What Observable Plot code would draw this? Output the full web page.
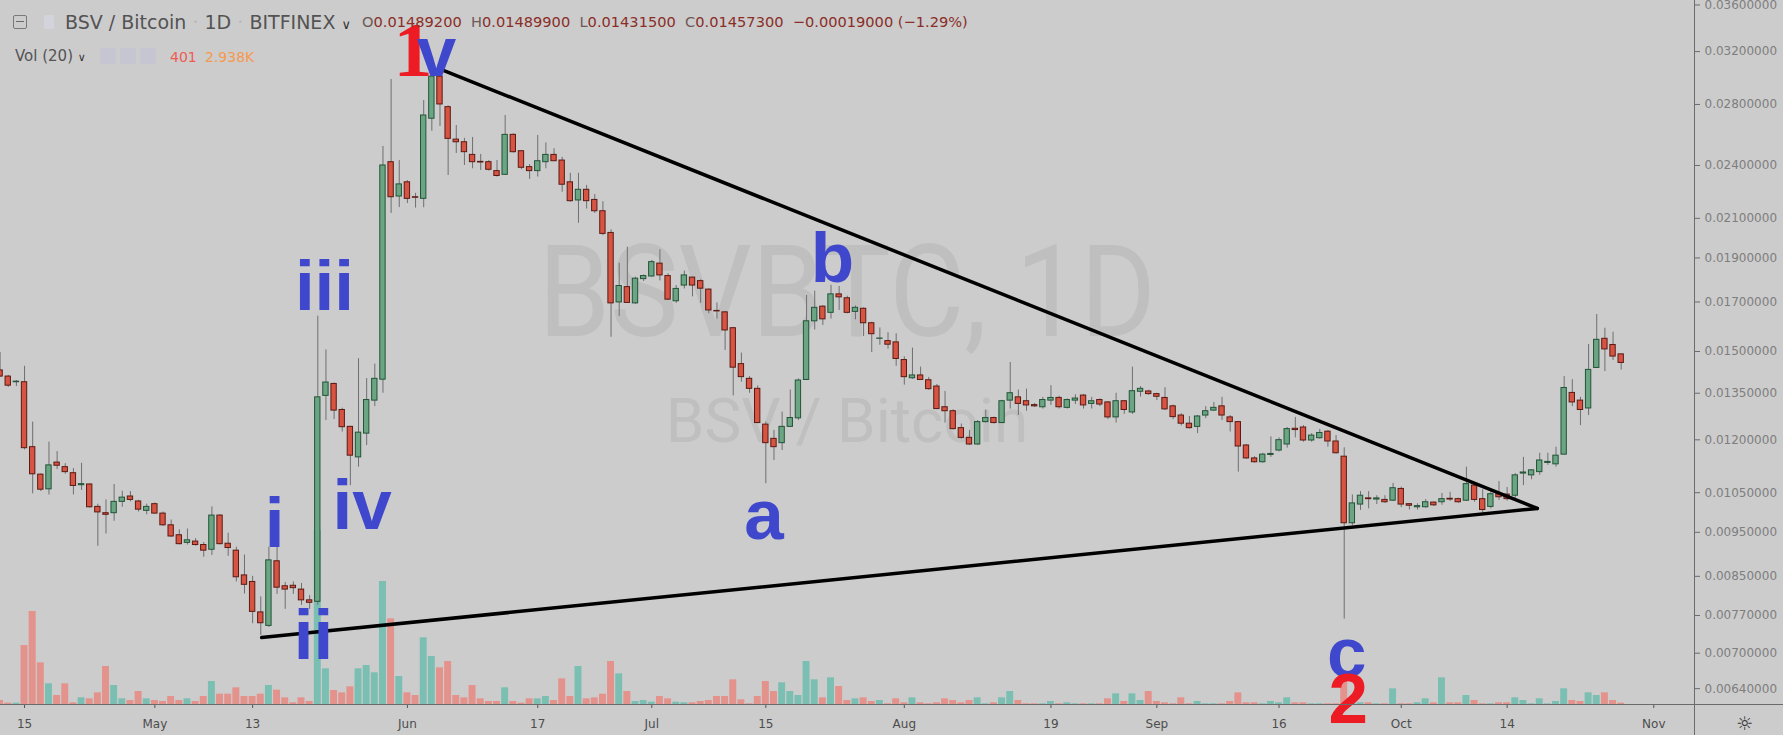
<!DOCTYPE html>
<html><head><meta charset="utf-8">
<script src="https://cdn.jsdelivr.net/npm/d3@7"></script>
<script src="https://cdn.jsdelivr.net/npm/@observablehq/plot@0.6"></script>
<style>
html,body{margin:0;padding:0;background:#cccccc;}
#wrap{position:relative;width:1783px;height:735px;overflow:hidden;background:#cccccc;font-family:"DejaVu Sans",sans-serif;}
.layer{position:absolute;left:0;top:0;}
.abs{position:absolute;white-space:nowrap;}
.wm{position:absolute;white-space:nowrap;color:#bfbfbf;font-family:Roboto,"DejaVu Sans",sans-serif;transform-origin:center center;}
</style></head><body>
<div id="wrap">
  <div class="wm" id="wm1" style="left:0;width:1694px;text-align:center;top:222px;font-size:128px;line-height:140px;transform:scaleX(0.9);">BSVBTC, 1D</div>
  <div class="wm" id="wm2" style="left:0;width:1694px;text-align:center;top:386px;font-size:62px;line-height:70px;">BSV / Bitcoin</div>
  <div class="layer" id="vol"></div>
  <div class="layer" id="main"></div>
  <div class="abs" style="left:1694px;top:0;width:1px;height:735px;background:#6b6b6b;"></div>
  <div class="abs" style="left:0;top:704px;width:1783px;height:1px;background:#6b6b6b;"></div>
  <div class="abs" style="left:1736px;top:711px;font-size:19px;color:#333;line-height:24px;">☼</div>
  <!-- header -->
  <div class="abs" style="left:13px;top:15px;width:12px;height:12px;border:1px solid #7a7a7a;border-radius:2px;"></div>
  <div class="abs" style="left:16px;top:21px;width:8px;height:1px;background:#6a6a6a;"></div>
  <div class="abs" style="left:44px;top:15px;width:10px;height:14px;background:#d3d3dc;"></div>
  <div class="abs" style="left:65px;top:10px;font-size:19px;line-height:24px;color:#535353;">BSV / Bitcoin <span style="color:#b8b8b8">·</span> 1D <span style="color:#b8b8b8">·</span> BITFINEX <span style="font-size:13px;color:#333">&#x2228;</span></div>
  <div class="abs" style="left:362px;top:12px;font-size:14.6px;line-height:20px;color:#8a2e27;"><span style="color:#6d5a58">O</span>0.01489200&nbsp;&nbsp;<span style="color:#6d5a58">H</span>0.01489900&nbsp;&nbsp;<span style="color:#6d5a58">L</span>0.01431500&nbsp;&nbsp;<span style="color:#6d5a58">C</span>0.01457300&nbsp;&nbsp;−0.00019000 (−1.29%)</div>
  <div class="abs" style="left:15px;top:46px;font-size:15px;line-height:20px;color:#535353;">Vol (20) <span style="font-size:11px;color:#333">&#x2228;</span></div>
  <div class="abs" style="left:100px;top:48px;width:16px;height:16px;background:#c6c6d2;border-radius:2px;"></div>
  <div class="abs" style="left:120px;top:48px;width:16px;height:16px;background:#c6c6d2;border-radius:2px;"></div>
  <div class="abs" style="left:140px;top:48px;width:16px;height:16px;background:#c6c6d2;border-radius:2px;"></div>
  <div class="abs" style="left:170px;top:47px;font-size:14px;line-height:20px;color:#ef5b52;">401</div>
  <div class="abs" style="left:205px;top:47px;font-size:14px;line-height:20px;color:#f7994e;">2.938K</div>
</div>
<script>
// ---- data (BSV/BTC daily, Bitfinex, from 2019-04-12) ----
const startDate = "2019-04-12";
const open = [
0.01430,0.01408,0.01388,0.01388,0.01178,0.01099,0.01059,0.01133,0.01120,0.01103,
0.01070,0.01072,0.01013,0.00997,0.00997,0.01026,0.01040,0.01027,0.01003,0.01020,
0.00996,0.00967,0.00943,0.00925,0.00928,0.00920,0.00909,0.00991,0.00923,0.00907,
0.00852,0.00838,0.00776,0.00750,0.00883,0.00829,0.00830,0.00822,0.00800,0.00797,
0.01341,0.01382,0.01294,0.01240,0.01148,0.01219,0.01325,0.01397,0.02420,0.02219,
0.02300,0.02215,0.02206,0.02701,0.03004,0.02781,0.02562,0.02545,0.02465,0.02422,
0.02420,0.02366,0.02344,0.02593,0.02488,0.02390,0.02366,0.02420,0.02465,0.02430,
0.02300,0.02197,0.02257,0.02200,0.02138,0.02024,0.01698,0.01765,0.01694,0.01801,
0.01813,0.01873,0.01815,0.01703,0.01772,0.01808,0.01792,0.01754,0.01662,0.01656,
0.01591,0.01453,0.01400,0.01365,0.01247,0.01203,0.01190,0.01240,0.01267,0.01396,
0.01619,0.01680,0.01654,0.01733,0.01716,0.01658,0.01671,0.01611,0.01549,0.01540,
0.01535,0.01468,0.01402,0.01412,0.01395,0.01373,0.01303,0.01290,0.01236,0.01206,
0.01186,0.01255,0.01268,0.01252,0.01325,0.01336,0.01323,0.01310,0.01303,0.01325,
0.01334,0.01301,0.01325,0.01342,0.01314,0.01327,0.01319,0.01270,0.01323,0.01286,
0.01355,0.01356,0.01347,0.01334,0.01306,0.01276,0.01250,0.01240,0.01276,0.01292,
0.01306,0.01270,0.01255,0.01183,0.01145,0.01134,0.01155,0.01168,0.01186,0.01234,
0.01238,0.01198,0.01205,0.01225,0.01195,0.01150,0.00972,0.01019,0.01035,0.01032,
0.01031,0.01029,0.01060,0.01020,0.01012,0.01012,0.01024,0.01025,0.01034,0.01033,
0.01029,0.01069,0.01033,0.01013,0.01046,0.01045,0.01042,0.01102,0.01097,0.01106,
0.01132,0.01128,0.01156,0.01351,0.01325,0.01299,0.01439,0.01549,0.01525,0.014892];
const high = [
0.01496,0.01412,0.01394,0.01445,0.01255,0.01101,0.01193,0.01165,0.01130,0.01116,
0.01131,0.01074,0.01020,0.01031,0.01072,0.01054,0.01053,0.01030,0.01020,0.01023,
0.01000,0.00980,0.00956,0.00958,0.00935,0.00926,0.01013,0.00993,0.00948,0.00915,
0.00897,0.00850,0.00807,0.00915,0.00915,0.00837,0.00838,0.00835,0.00810,0.01640,
0.01506,0.01385,0.01300,0.01242,0.01473,0.01401,0.01453,0.02518,0.02982,0.02430,
0.02310,0.02237,0.02828,0.03060,0.03020,0.02790,0.02655,0.02570,0.02576,0.02468,
0.02430,0.02430,0.02723,0.02600,0.02490,0.02406,0.02589,0.02541,0.02504,0.02450,
0.02353,0.02353,0.02282,0.02230,0.02190,0.02040,0.01875,0.01952,0.01810,0.01820,
0.01888,0.01940,0.01826,0.01772,0.01838,0.01810,0.01798,0.01757,0.01696,0.01660,
0.01594,0.01494,0.01408,0.01375,0.01255,0.01229,0.01287,0.01361,0.01400,0.01728,
0.01747,0.01684,0.01773,0.01768,0.01725,0.01683,0.01675,0.01615,0.01592,0.01573,
0.01569,0.01480,0.01513,0.01442,0.01405,0.01380,0.01356,0.01295,0.01249,0.01229,
0.01260,0.01294,0.01271,0.01326,0.01459,0.01361,0.01364,0.01316,0.01336,0.01376,
0.01340,0.01331,0.01345,0.01346,0.01336,0.01331,0.01322,0.01350,0.01325,0.01442,
0.01373,0.01360,0.01350,0.01369,0.01310,0.01282,0.01273,0.01276,0.01305,0.01319,
0.01336,0.01276,0.01257,0.01186,0.01150,0.01160,0.01209,0.01206,0.01238,0.01270,
0.01244,0.01219,0.01232,0.01229,0.01213,0.01176,0.01044,0.01053,0.01053,0.01042,
0.01042,0.01075,0.01065,0.01021,0.01021,0.01032,0.01026,0.01048,0.01051,0.01036,
0.01120,0.01075,0.01058,0.01052,0.01080,0.01064,0.01102,0.01148,0.01113,0.01160,
0.01160,0.01178,0.01408,0.01397,0.01336,0.01527,0.01647,0.01591,0.01575,0.014899];
const low = [
0.01405,0.01370,0.01373,0.01170,0.01047,0.01053,0.01044,0.01113,0.01100,0.01044,
0.01056,0.01010,0.00917,0.00946,0.00977,0.01012,0.01026,0.01000,0.00993,0.00994,
0.00964,0.00938,0.00920,0.00920,0.00917,0.00892,0.00896,0.00920,0.00894,0.00838,
0.00813,0.00754,0.00732,0.00747,0.00812,0.00782,0.00812,0.00790,0.00782,0.00790,
0.01260,0.01263,0.01224,0.01069,0.01120,0.01183,0.01305,0.01350,0.02126,0.02158,
0.02180,0.02155,0.02157,0.02617,0.02648,0.02340,0.02474,0.02400,0.02380,0.02370,
0.02366,0.02331,0.02340,0.02476,0.02374,0.02317,0.02331,0.02380,0.02424,0.02243,
0.02187,0.02074,0.02150,0.02126,0.02010,0.01555,0.01639,0.01694,0.01690,0.01790,
0.01810,0.01793,0.01706,0.01694,0.01757,0.01722,0.01694,0.01650,0.01628,0.01504,
0.01341,0.01388,0.01350,0.01250,0.01074,0.01139,0.01168,0.01238,0.01260,0.01394,
0.01584,0.01602,0.01628,0.01664,0.01650,0.01625,0.01558,0.01496,0.01524,0.01509,
0.01445,0.01378,0.01398,0.01394,0.01360,0.01295,0.01252,0.01230,0.01202,0.01183,
0.01183,0.01252,0.01249,0.01250,0.01297,0.01276,0.01290,0.01302,0.01297,0.01309,
0.01297,0.01297,0.01312,0.01297,0.01297,0.01305,0.01263,0.01252,0.01280,0.01280,
0.01337,0.01343,0.01325,0.01292,0.01263,0.01243,0.01233,0.01219,0.01266,0.01290,
0.01260,0.01224,0.01106,0.01142,0.01131,0.01131,0.01148,0.01164,0.01175,0.01206,
0.01193,0.01193,0.01202,0.01178,0.01158,0.00763,0.00966,0.01004,0.01008,0.01019,
0.01022,0.01027,0.01011,0.01005,0.01005,0.01010,0.01014,0.01017,0.01027,0.01022,
0.01027,0.01025,0.00997,0.01008,0.01030,0.01028,0.01035,0.01069,0.01085,0.01097,
0.01125,0.01120,0.01155,0.01305,0.01244,0.01276,0.01437,0.01426,0.01466,0.014315];
const close = [
0.01408,0.01376,0.01390,0.01175,0.01100,0.01058,0.01125,0.01124,0.01106,0.01068,
0.01073,0.01012,0.00999,0.00993,0.01026,0.01037,0.01031,0.01006,0.01013,0.00996,
0.00967,0.00940,0.00922,0.00931,0.00920,0.00907,0.00991,0.00922,0.00913,0.00848,
0.00832,0.00777,0.00755,0.00885,0.00826,0.00822,0.00825,0.00800,0.00795,0.01336,
0.01387,0.01292,0.01239,0.01153,0.01222,0.01327,0.01400,0.02400,0.02215,0.02288,
0.02206,0.02212,0.02723,0.03004,0.02800,0.02567,0.02545,0.02482,0.02420,0.02418,
0.02374,0.02337,0.02593,0.02482,0.02386,0.02366,0.02426,0.02465,0.02426,0.02286,
0.02193,0.02257,0.02193,0.02138,0.02019,0.01694,0.01770,0.01696,0.01803,0.01815,
0.01880,0.01818,0.01710,0.01757,0.01818,0.01772,0.01758,0.01664,0.01660,0.01582,
0.01440,0.01406,0.01365,0.01252,0.01190,0.01178,0.01240,0.01268,0.01394,0.01619,
0.01675,0.01627,0.01733,0.01720,0.01654,0.01675,0.01611,0.01567,0.01550,0.01526,
0.01472,0.01406,0.01412,0.01396,0.01364,0.01297,0.01290,0.01233,0.01206,0.01186,
0.01255,0.01268,0.01252,0.01323,0.01350,0.01314,0.01309,0.01306,0.01327,0.01334,
0.01303,0.01327,0.01332,0.01309,0.01323,0.01312,0.01270,0.01323,0.01294,0.01357,
0.01365,0.01347,0.01338,0.01296,0.01271,0.01250,0.01236,0.01273,0.01290,0.01301,
0.01276,0.01255,0.01180,0.01145,0.01134,0.01156,0.01158,0.01199,0.01233,0.01230,
0.01198,0.01213,0.01221,0.01195,0.01160,0.00972,0.01022,0.01042,0.01033,0.01035,
0.01025,0.01062,0.01019,0.01016,0.01015,0.01025,0.01017,0.01033,0.01032,0.01025,
0.01073,0.01031,0.01005,0.01046,0.01038,0.01033,0.01097,0.01105,0.01111,0.01139,
0.01135,0.01153,0.01368,0.01319,0.01294,0.01432,0.01545,0.01508,0.01481,0.014573];
const volume = [
1200,400,400,17700,27900,12500,6200,2700,6200,500,
2000,1700,3500,11400,5700,1700,1200,3900,1700,1200,
900,2400,1200,1700,900,2400,6900,3100,3100,5000,
2400,2400,3100,5700,4300,2000,500,2000,900,52200,
10700,4200,3500,5300,10700,11700,9500,36900,25700,8400,
3500,2700,20000,14400,11000,12900,2700,2000,5700,1700,
900,900,5000,900,400,1700,1700,2400,1200,7700,
2400,11400,1700,2000,3100,12900,9200,3900,900,1200,
700,2400,1700,700,500,500,900,1200,2400,2400,
7400,1400,200,2400,6900,3900,6500,3900,2700,12900,
7400,2000,8000,5400,1200,1700,2000,900,1200,200,
1700,500,2000,500,200,500,1700,1200,500,1200,
2000,200,500,2000,3900,1200,200,200,200,900,
200,500,200,200,200,200,1700,3200,900,3200,
1200,3900,900,500,200,2000,200,900,200,200,
200,900,3500,500,500,200,900,500,2000,500,
500,200,200,200,200,7200,2100,500,500,200,
200,4700,200,200,500,1700,500,8000,500,500,
2700,1200,200,200,500,500,2000,1200,200,1700,
200,900,4700,1200,900,3500,2700,3500,1200,401];

const priceTicks = [0.0064,0.0070,0.0077,0.0085,0.0095,0.0105,0.0120,0.0135,0.0150,0.0170,0.0190,0.0210,0.0240,0.0280,0.0320,0.0360];
const timeTickDates = ["2019-04-15","2019-05-01","2019-05-13","2019-06-01","2019-06-17","2019-07-01","2019-07-15","2019-08-01","2019-08-19","2019-09-01","2019-09-16","2019-10-01","2019-10-14","2019-11-01"];
const timeTickLabels = ["15","May","13","Jun","17","Jul","15","Aug","19","Sep","16","Oct","14","Nov"];

// triangle trend lines (drawn by the author)
const trendName = ["upper","upper","lower","lower"];
const trendTime = ["2019-06-05T06:14Z","2019-10-17T16:48Z","2019-05-14T02:38Z","2019-10-17T16:48Z"];
const trendPrice = [0.03056,0.01009,0.007283,0.01009];

// Elliott-wave annotations
const waveText  = ["1","v","iii","i","ii","iv","a","b","c","2"];
const waveTime  = ["2019-06-01T16:19Z","2019-06-04T13:26Z","2019-05-21T19:41Z","2019-05-15T16:48Z","2019-05-20T11:17Z","2019-05-26T10:48Z","2019-07-14T18:29Z","2019-07-23T04:05Z","2019-09-24T07:41Z","2019-09-24T12:14Z"];
const wavePrice = [0.03005,0.03005,0.01664,0.009148,0.006902,0.009583,0.009352,0.01787,0.006588,0.005861];
const waveColor = ["#ed1c24","#3f48cc","#3f48cc","#3f48cc","#3f48cc","#3f48cc","#3f48cc","#3f48cc","#3f48cc","#ed1c24"];
const waveStyle = ["serif","sans","sans","sans","sans","sans","sans","sans","sans","sans"];

// ---- build ----
const DAY = 864e5;
const t0 = Date.parse(startDate + "T00:00:00Z");
const candles = open.map((o, i) => ({
  date: new Date(t0 + i * DAY),
  open: o, high: high[i], low: low[i], close: close[i], volume: volume[i],
  up: close[i] >= o
}));
const trend = trendName.map((n, i) => ({name: n, date: new Date(trendTime[i]), price: trendPrice[i]}));
const waves = waveText.map((t, i) => ({text: t, date: new Date(waveTime[i]), price: wavePrice[i], color: waveColor[i], style: waveStyle[i]}));
const labelMap = new Map(timeTickDates.map((d, i) => [Date.parse(d + "T00:00:00Z"), timeTickLabels[i]]));

const W = 1783, H = 735, MR = 89, MB = 31;
const xDomain = [new Date(t0 + 0.05 * DAY), new Date(t0 + 208 * DAY)];
const yDomain = [0.006149, 0.03641];
const volPerPx = 300;
const volDomain = [0, (H - MB) * volPerPx];

const bodyX1 = d => new Date(+d.date - DAY / 2);
const bodyX2 = d => new Date(+d.date + DAY / 2);

const volPlot = Plot.plot({
  width: W, height: H, marginLeft: 0, marginRight: MR, marginTop: 0, marginBottom: MB,
  style: {background: "transparent"},
  x: {type: "utc", domain: xDomain, axis: null},
  y: {domain: volDomain, axis: null},
  marks: [
    Plot.rectY(candles, {x1: bodyX1, x2: bodyX2, y: "volume", fill: d => d.up ? "#7bbfb3" : "#e4928c", insetLeft: 0.6, insetRight: 0.6})
  ]
});
document.getElementById("vol").appendChild(volPlot);

const waveOpts = {x: "date", y: "price", text: "text", fill: "color", fontWeight: "bold", fontSize: 71, lineAnchor: "bottom", textAnchor: "middle"};

const mainPlot = Plot.plot({
  width: W, height: H, marginLeft: 0, marginRight: MR, marginTop: 0, marginBottom: MB,
  style: {background: "transparent", fontFamily: "DejaVu Sans", fontSize: "12px", overflow: "visible"},
  x: {type: "utc", domain: xDomain},
  y: {type: "log", domain: yDomain},
  marks: [
    Plot.ruleX(candles, {x: "date", y1: "low", y2: "high", stroke: "#6f6f72", strokeWidth: 1}),
    Plot.rect(candles, {x1: bodyX1, x2: bodyX2, y1: "open", y2: "close",
      fill: d => d.up ? "#6ba583" : "#d75442", stroke: d => d.up ? "#225437" : "#5b1a13",
      strokeWidth: 1, insetLeft: 1.4, insetRight: 1.4}),
    Plot.line(trend, {x: "date", y: "price", z: "name", stroke: "#000", strokeWidth: 3.5}),
    Plot.text(waves.filter(d => d.style === "serif"), {...waveOpts, fontFamily: "Liberation Serif", fontSize: 78}),
    Plot.text(waves.filter(d => d.style === "sans"), {...waveOpts, fontFamily: "Liberation Sans"}),
    Plot.axisY(priceTicks, {anchor: "right", tickFormat: d => d.toFixed(8), tickSize: 5, tickPadding: 5,
      stroke: "#6b6b6b", fill: "#7e7e7e", fontSize: 12}),
    Plot.axisX(timeTickDates.map(d => new Date(d + "T00:00:00Z")), {anchor: "bottom",
      tickFormat: d => labelMap.get(+d), tickSize: 4, tickPadding: 11, stroke: "#555", fill: "#4d4d4d", fontSize: 12})
  ]
});
document.getElementById("main").appendChild(mainPlot);
</script>
</body></html>
